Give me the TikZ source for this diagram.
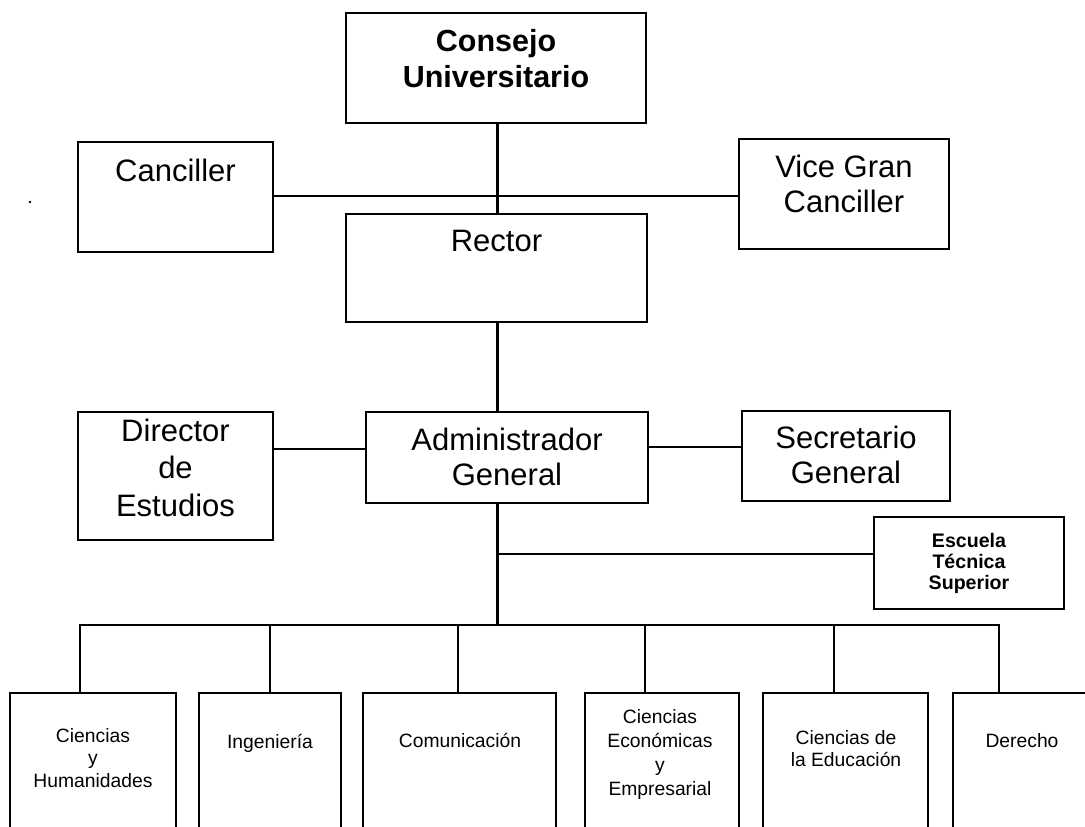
\documentclass[tikz,border=0pt]{standalone}
\usepackage{fontspec}
\setmainfont{Liberation Sans}
\begin{document}
\begin{tikzpicture}[x={(1pt,0)}, y={(0,-1pt)},
  box/.style={draw, line width=2.2pt, rectangle, outer sep=0pt, inner sep=0pt, anchor=north west},
  conn/.style={line width=2.2pt},
  big/.style={font=\fontsize{31}{35}\selectfont, align=center, inner sep=0pt, anchor=base},
  bigb/.style={font=\bfseries\fontsize{30.5}{36}\selectfont, align=center, inner sep=0pt, anchor=base},
  small/.style={font=\fontsize{19.3}{22.5}\selectfont, align=center, inner sep=0pt, anchor=base},
  smallb/.style={font=\bfseries\fontsize{19.6}{21}\selectfont, align=center, inner sep=0pt, anchor=base}]
\useasboundingbox (0,0) rectangle (1085,827);
\clip (0,0) rectangle (1085,827);
% boxes
\node[box, minimum width=300pt, minimum height=110pt] (cons) at (346,13) {};
\node[box, minimum width=195pt, minimum height=110pt] (canc) at (78,142) {};
\node[box, minimum width=210pt, minimum height=110pt] (vice) at (739,139) {};
\node[box, minimum width=301pt, minimum height=108pt] (rect) at (346,214) {};
\node[box, minimum width=195pt, minimum height=128pt] (dir) at (78,412) {};
\node[box, minimum width=282pt, minimum height=91pt] (adm) at (366,412) {};
\node[box, minimum width=208pt, minimum height=90pt] (sec) at (742,411) {};
\node[box, minimum width=190pt, minimum height=92pt] (esc) at (874,517) {};
\node[box, minimum width=166pt, minimum height=170pt] (f1) at (10,693) {};
\node[box, minimum width=142pt, minimum height=170pt] (f2) at (199,693) {};
\node[box, minimum width=193pt, minimum height=170pt] (f3) at (363,693) {};
\node[box, minimum width=154pt, minimum height=170pt] (f4) at (585,693) {};
\node[box, minimum width=165pt, minimum height=170pt] (f5) at (763,693) {};
\node[box, minimum width=142pt, minimum height=170pt] (f6) at (953,693) {};
% texts (base anchor = baseline of the last line)
\node[bigb] (cons-t) at (496,87) {Consejo\\Universitario};
\node[big] (canc-t) at (175.5,181) {Canciller};
\node[big] (vice-t) at (844,212.5) {Vice Gran\\Canciller};
\node[big] (rect-t) at (496.5,251) {Rector};
\node[big, font=\fontsize{31}{37.5}\selectfont] (dir-t) at (175.5,516) {Director\\de\\Estudios};
\node[big] (adm-t) at (507,485) {Administrador\\General};
\node[big] (sec-t) at (846,483.5) {Secretario\\General};
\node[smallb] (esc-t) at (969,589) {Escuela\\Técnica\\Superior};
\node[small] (f1-t) at (93,787) {Ciencias\\y\\Humanidades};
\node[small] (f2-t) at (270,748) {Ingeniería};
\node[small] (f3-t) at (460,747) {Comunicación};
\node[small, font=\fontsize{19.3}{24}\selectfont] (f4-t) at (660,795) {Ciencias\\Económicas\\y\\Empresarial};
\node[small] (f5-t) at (846,766.5) {Ciencias de\\la Educación};
\node[small] (f6-t) at (1022,747) {Derecho};
% connectors
\coordinate (tr) at (497.5,0);
\draw[conn] (cons.south -| tr) -- (rect.north -| tr);
\draw[conn] (canc.east |- 0,196) -- (vice.west |- 0,196);
\draw[conn] (rect.south -| tr) -- (adm.north -| tr);
\draw[conn] (dir.east |- 0,449) -- (adm.west |- 0,449);
\draw[conn] (adm.east |- 0,447) -- (sec.west |- 0,447);
\coordinate (b1) at (80,625);
\coordinate (b2) at (270,625);
\coordinate (b3) at (458,625);
\coordinate (b4) at (645,625);
\coordinate (b5) at (834,625);
\coordinate (b6) at (999,625);
\draw[conn] (adm.south -| tr) -- (b3 -| tr);
\draw[conn] (tr |- 0,554) -- (esc.west |- 0,554);
\draw[conn, line cap=rect] (b1) -- (b6);
\draw[conn] (b1) -- (b1 |- f1.north);
\draw[conn] (b2) -- (b2 |- f2.north);
\draw[conn] (b3) -- (b3 |- f3.north);
\draw[conn] (b4) -- (b4 |- f4.north);
\draw[conn] (b5) -- (b5 |- f5.north);
\draw[conn] (b6) -- (b6 |- f6.north);
\fill (30,202) circle (1.3pt);
\end{tikzpicture}
\end{document}
